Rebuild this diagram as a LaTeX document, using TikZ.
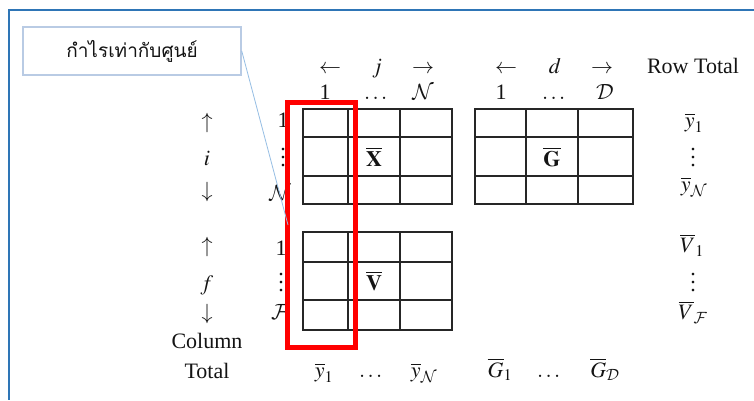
\RequirePackage{fix-cm}
\documentclass[tikz,border=0pt]{standalone}
\usepackage{amsmath}
\usepackage{mathptmx}
\DeclareMathAlphabet{\mathcal}{OMS}{cmsy}{m}{n}
\usepackage{fontspec}
\setmainfont{Liberation Serif}
\newfontfamily\thaifont[Script=Thai]{Loma}
\newcommand{\vdotsx}{\vbox{\baselineskip=8pt\lineskiplimit=0pt\kern1pt\hbox{.}\hbox{.}\hbox{.}}}
\definecolor{framebl}{RGB}{46,117,182}
\definecolor{boxbd}{RGB}{185,203,228}
\definecolor{callout}{RGB}{150,190,228}
\definecolor{ink}{RGB}{20,20,20}
\begin{document}
\begin{tikzpicture}[x=1pt,y=-1pt,
  lbl/.style={inner sep=0pt, text=ink, font=\fontsize{22}{26}\selectfont},
  bl/.style={lbl, anchor=base},
  gridline/.style={line width=1.2pt, draw=black!85},
  redbox/.style={draw={rgb,255:red,255;green,0;blue,0}, line width=5pt},
  thaibox/.style={draw=boxbd, line width=1.5pt, fill=white, minimum width=218pt, minimum height=48pt, inner sep=0pt, font=\thaifont\fontsize{19}{22}\selectfont, text=ink}
]
\useasboundingbox (0,0) rectangle (754,400);
\fill[white] (0,0) rectangle (754,400);
% outer frame
\draw[framebl, line width=2pt] (754,9.5) -- (8.5,9.5) -- (8.5,400);

% matrix X
\draw[gridline] (303,109) rectangle (452,204);
\draw[gridline] (348,109) -- (348,204) (400,109) -- (400,204)
                (303,137) -- (452,137) (303,176) -- (452,176);
% matrix G
\draw[gridline] (475,109) rectangle (633,204);
\draw[gridline] (526,109) -- (526,204) (578,109) -- (578,204)
                (475,137) -- (633,137) (475,176) -- (633,176);
% matrix V
\draw[gridline] (303,232) rectangle (452,330);
\draw[gridline] (348,232) -- (348,330) (400,232) -- (400,330)
                (303,262) -- (452,262) (303,300) -- (452,300);

% cell contents
\node[lbl] (X) at (374,157) {$\overline{\mathbf{X}}$};
\node[lbl] (G) at (552,157) {$\overline{\mathbf{G}}$};
\node[lbl] (V) at (374,281) {$\overline{\mathbf{V}}$};

% header row 1
\node[bl] (la1) at (330,73) {$\leftarrow$};
\node[bl] (jj)  at (377,73) {$j$};
\node[bl] (ra1) at (423,73) {$\rightarrow$};
\node[bl] (la2) at (506,73) {$\leftarrow$};
\node[bl] (dd)  at (555,73) {$d$};
\node[bl] (ra2) at (602,73) {$\rightarrow$};
\node[bl] (rt)  at (693,73) {Row Total};
% header row 2
\node[bl] (c1)  at (325,99) {1};
\node[bl] (cd)  at (377,99) {$\dots$};
\node[bl] (cN)  at (423,99) {$\mathcal{N}$};
\node[bl] (d1)  at (501,99) {1};
\node[bl] (ddt) at (555,99) {$\dots$};
\node[bl] (dD)  at (605,99) {$\mathcal{D}$};

% left labels, X rows
\node[lbl] (ua1) at (207,123) {$\uparrow$};
\node[lbl] (ii)  at (207,158) {$i$};
\node[lbl] (da1) at (207,192) {$\downarrow$};
\node[lbl] (r1)  at (283,120) {1};
\node[lbl] (rv)  at (283,157) {\vdotsx};
\node[lbl] (rN)  at (280,193) {$\mathcal{N}$};
% left labels, V rows
\node[lbl] (ua2) at (207,247) {$\uparrow$};
\node[lbl] (ff)  at (207,285) {$f$};
\node[lbl] (da2) at (207,314) {$\downarrow$};
\node[lbl] (s1)  at (281,248) {1};
\node[lbl] (sv)  at (281,282) {\vdotsx};
\node[lbl] (sF)  at (280,312) {$\mathcal{F}$};
\node[bl] (col) at (207,348) {Column};
\node[bl] (tot) at (207,378) {Total};

% bottom row
\node[bl] (b1)  at (324,377) {$\overline{y}_1$};
\node[bl] (bd)  at (372,377) {$\dots$};
\node[bl] (bN)  at (424,377) {$\overline{y}_{\mathcal{N}}$};
\node[bl] (g1)  at (500,377) {$\overline{G}_1$};
\node[bl] (gd)  at (550,377) {$\dots$};
\node[bl] (gD)  at (605,377) {$\overline{G}_{\mathcal{D}}$};

% right column
\node[lbl] (y1)  at (694,123) {$\overline{y}_1$};
\node[lbl] (yv)  at (693,157) {\vdotsx};
\node[lbl] (yN)  at (694,187) {$\overline{y}_{\mathcal{N}}$};
\node[lbl] (v1)  at (692,245) {$\overline{V}_1$};
\node[lbl] (vv)  at (693,282) {\vdotsx};
\node[lbl] (vF)  at (693,312) {$\overline{V}_{\mathcal{F}}$};

% red highlight
\draw[redbox] (287.5,102.5) rectangle (355.5,347);

% callout
\node[thaibox] (thai) at (132,51) {กำไรเท่ากับศูนย์};
\coordinate (tip) at (288,225);
\draw[callout, line width=0.8pt] (thai.east) -- (tip);
\end{tikzpicture}
\end{document}
